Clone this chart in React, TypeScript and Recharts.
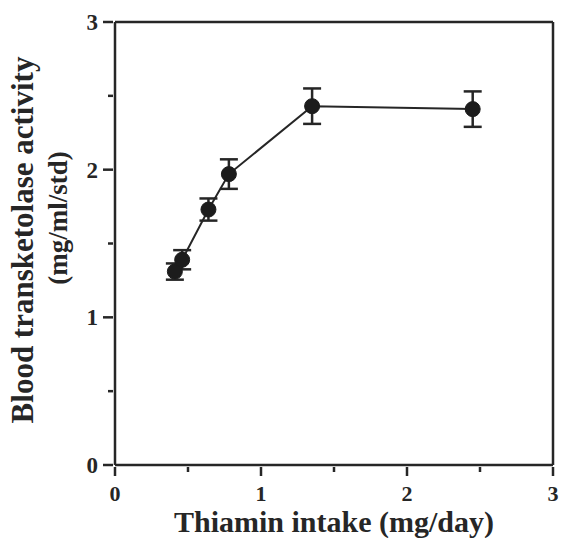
import React from 'react';
import { LineChart, Line, XAxis, YAxis, ErrorBar, ReferenceLine } from 'recharts';

// thiamin intake (mg/day) vs blood transketolase activity, mean ± error
const intake = [0.41, 0.46, 0.64, 0.78, 1.35, 2.45];
const activity = [1.31, 1.39, 1.73, 1.97, 2.43, 2.41];
const errors = [0.055, 0.065, 0.075, 0.1, 0.12, 0.12];
const xTicks = [0, 0.5, 1, 1.5, 2, 2.5, 3];
const yTicks = [0, 0.5, 1, 1.5, 2, 2.5, 3];

const data = intake.map((x, i) => ({ intake: x, activity: activity[i], err: errors[i] }));

const INK = '#262626';
const FONT = '"Liberation Serif", "Times New Roman", serif';

const XTick = (props: any) => {
  const { x, y, payload } = props;
  const major = Number.isInteger(payload.value);
  return (
    <g>
      <line x1={x} y1={y} x2={x} y2={y + (major ? 9 : 5)} stroke={INK} strokeWidth={2.5} />
      {major && (
        <text x={x} y={y + 34} textAnchor="middle" fontFamily={FONT} fontWeight="bold" fontSize={22} fill={INK}>
          {payload.value}
        </text>
      )}
    </g>
  );
};

const YTick = (props: any) => {
  const { x, y, payload } = props;
  const major = Number.isInteger(payload.value);
  return (
    <g>
      <line x1={x - (major ? 10 : 5)} y1={y} x2={x} y2={y} stroke={INK} strokeWidth={2.5} />
      {major && (
        <text x={x - 15} y={y + 8} textAnchor="end" fontFamily={FONT} fontWeight="bold" fontSize={23} fill={INK}>
          {payload.value}
        </text>
      )}
    </g>
  );
};

const YTitle = () => (
  <g fontFamily={FONT} fontWeight="bold" fill={INK}>
    <text transform="translate(33,240) rotate(-90)" textAnchor="middle" fontSize={31}>
      Blood transketolase activity
    </text>
    <text transform="translate(67,218) rotate(-90)" textAnchor="middle" fontSize={27}>
      (mg/ml/std)
    </text>
  </g>
);

const XTitle = () => (
  <text x={334} y={532} textAnchor="middle" fontFamily={FONT} fontWeight="bold" fontSize={30} fill={INK}>
    Thiamin intake (mg/day)
  </text>
);

export default function App() {
  return (
    <div style={{ position: 'absolute', left: 0, top: 0, background: '#fff' }}>
      <LineChart width={561} height={538} data={data} margin={{ top: 22, right: 8, left: 0, bottom: 0 }}>
        <XAxis
          type="number"
          dataKey="intake"
          domain={[0, 3]}
          ticks={xTicks}
          interval={0}
          height={73}
          tickSize={0}
          tickLine={false}
          tick={<XTick />}
          stroke={INK}
          strokeWidth={2.5}
          label={<XTitle />}
        />
        <YAxis
          type="number"
          domain={[0, 3]}
          ticks={yTicks}
          interval={0}
          width={115}
          tickSize={0}
          tickLine={false}
          tick={<YTick />}
          stroke={INK}
          strokeWidth={2.5}
          label={<YTitle />}
        />
        <ReferenceLine y={3} stroke={INK} strokeWidth={2.5} />
        <ReferenceLine x={3} stroke={INK} strokeWidth={2.5} />
        <Line
          type="linear"
          dataKey="activity"
          stroke={INK}
          strokeWidth={2}
          dot={{ r: 7.5, fill: '#1c1c1c', stroke: '#1c1c1c', strokeWidth: 1 }}
          isAnimationActive={false}
        >
          <ErrorBar dataKey="err" direction="y" width={9} stroke={INK} strokeWidth={2.5} />
        </Line>
      </LineChart>
    </div>
  );
}
